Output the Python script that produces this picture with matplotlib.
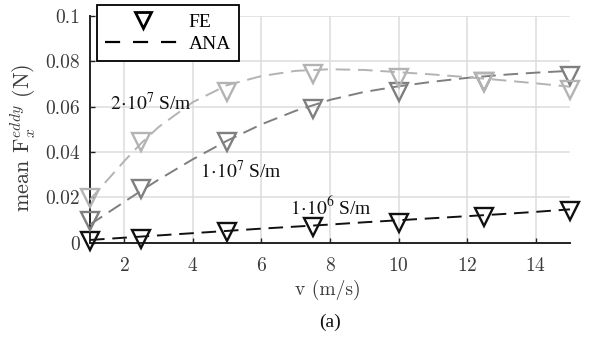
import matplotlib
matplotlib.use("Agg")
import matplotlib.pyplot as plt
from matplotlib.lines import Line2D

v_fe = [1, 2.5, 5, 7.5, 10, 12.5, 15]
fe_1e6 = [0.0008, 0.0018, 0.0048, 0.0068, 0.0088, 0.0115, 0.0138]
fe_1e7 = [0.0095, 0.0235, 0.0445, 0.0588, 0.0665, 0.0708, 0.0735]
fe_2e7 = [0.0195, 0.0445, 0.0665, 0.0742, 0.0728, 0.0710, 0.0672]

v_ana = [1, 1.5, 2, 2.5, 3, 4, 5, 6, 7, 8, 9, 10, 11, 12, 13, 14, 15]
ana_1e6 = [0.0012, 0.0017, 0.0022, 0.0027, 0.0032, 0.0042, 0.0052, 0.0062, 0.0071, 0.0080,
           0.0090, 0.0099, 0.0108, 0.0117, 0.0126, 0.0136, 0.0147]
ana_1e7 = [0.0080, 0.0130, 0.0180, 0.0230, 0.0278, 0.0368, 0.0450, 0.0522, 0.0582, 0.0630,
           0.0665, 0.0690, 0.0710, 0.0727, 0.0740, 0.0750, 0.0758]
ana_2e7 = [0.0190, 0.0275, 0.0360, 0.0440, 0.0510, 0.0620, 0.0695, 0.0735, 0.0758, 0.0765,
           0.0762, 0.0752, 0.0742, 0.0730, 0.0717, 0.0703, 0.0688]

labels = ["$1\\!\\cdot\\!10^6$ S/m", "$1\\!\\cdot\\!10^7$ S/m", "$2\\!\\cdot\\!10^7$ S/m"]
xticks = [2, 4, 6, 8, 10, 12, 14]
yticks = [0, 0.02, 0.04, 0.06, 0.08, 0.1]
ytick_labels = ["0", "0.02", "0.04", "0.06", "0.08", "0.1"]

plt.rcParams['mathtext.fontset'] = 'cm'
plt.rcParams['font.family'] = ['cmr10', 'DejaVu Serif']
plt.rcParams['axes.formatter.use_mathtext'] = True

fig = plt.figure(figsize=(5.89, 3.41), dpi=100)
ax = fig.add_axes([0.1528, 0.2883, 0.8149, 0.6648])

colors = ["#111111", "#7f7f7f", "#b3b3b3"]
dash = (0, (7.5, 4))
for fe, ana, c in zip([fe_1e6, fe_1e7, fe_2e7], [ana_1e6, ana_1e7, ana_2e7], colors):
    ax.plot(v_ana, ana, color=c, lw=1.4, linestyle=dash, clip_on=False, zorder=3)
    ax.plot(v_fe, fe, linestyle='none', marker='v', ms=12.5, mfc='none', mec=c, mew=1.7,
            clip_on=False, zorder=4)

ax.set_xlim(1, 15)
ax.set_ylim(0, 0.1)
ax.set_xticks(xticks)
ax.set_yticks(yticks)
ax.set_yticklabels(ytick_labels)
ax.grid(True, color="#dcdcdc", lw=1.1)
ax.set_axisbelow(True)
for s in ['top', 'right']:
    ax.spines[s].set_visible(False)
for s in ['left', 'bottom']:
    ax.spines[s].set_color("#222222")
    ax.spines[s].set_linewidth(1.4)
ax.tick_params(direction='in', length=3.5, width=1, colors="#222222", labelcolor="#3a3a3a",
               labelsize=14)
ax.tick_params(axis='x', pad=10)
ax.tick_params(axis='y', pad=7)

fig.text(328 / 589, 1 - 290 / 341, "v (m/s)", ha='center', va='center', fontsize=14,
         color="#3a3a3a")
fig.text(23 / 589, 1 - 138 / 341, "mean F$_x^{eddy}$ (N)", ha='center', va='center',
         rotation=90, fontsize=16, color="#3a3a3a")

tfont = dict(family=['Liberation Serif', 'DejaVu Serif'], fontsize=14, color="#111111",
             math_fontfamily='stix')
ax.text(1.58, 0.0617, labels[2], ha='left', va='center', **tfont)
ax.text(4.21, 0.0315, labels[1], ha='left', va='center', **tfont)
ax.text(6.84, 0.0155, labels[0], ha='left', va='center', **tfont)

h = [Line2D([], [], linestyle='none', marker='v', ms=12, mfc='none', mec='black', mew=2.0),
     Line2D([], [], color='black', lw=1.6, linestyle=(0, (6.8, 5.8)))]
leg = fig.legend(h, ["FE", "ANA"], loc='upper left', bbox_to_anchor=(97 / 589, 1 - 5 / 341),
                 bbox_transform=fig.transFigure, borderaxespad=0,
                 prop=dict(family=['Liberation Serif', 'DejaVu Serif'], size=14),
                 frameon=True, fancybox=False, edgecolor='black', framealpha=1,
                 handlelength=3.9, borderpad=0.42, labelspacing=0.25, handletextpad=0.4)
leg.get_frame().set_linewidth(1.3)
leg.set_zorder(10)

fig.text(330 / 589, 1 - 322 / 341, "(a)", ha='center', va='center',
         family=['Liberation Serif', 'DejaVu Serif'], fontsize=14, color="#111111")

fig.savefig("out.png", dpi=100)
